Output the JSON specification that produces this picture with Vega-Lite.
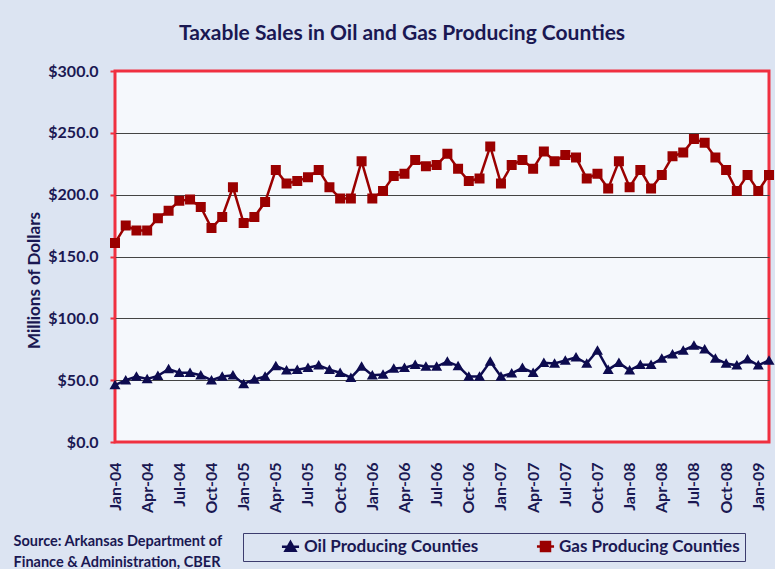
{
  "$schema": "https://vega.github.io/schema/vega-lite/v6.json",
  "width": 654,
  "height": 371,
  "autosize": "none",
  "padding": {"left": 115, "top": 71, "right": 6, "bottom": 127},
  "background": "#dce4f2",
  "title": {
    "text": "Taxable Sales in Oil and Gas Producing Counties",
    "anchor": "middle",
    "dx": -40,
    "offset": 19,
    "font": "Lato",
    "fontSize": 21,
    "fontWeight": "bold",
    "color": "#1a1852"
  },
  "config": {
    "view": {"fill": "#f5f8fc", "stroke": "#f03040", "strokeWidth": 3},
    "legend": {
      "orient": "none",
      "legendX": 128,
      "legendY": 462,
      "direction": "horizontal",
      "titleOrient": "left",
      "titleFontSize": 1,
      "titlePadding": 34,
      "padding": 5,
      "strokeColor": "#3c3c6e",
      "labelFont": "Lato",
      "labelFontSize": 17,
      "labelFontWeight": "bold",
      "labelColor": "#1a1852",
      "labelOffset": 5,
      "labelLimit": 400,
      "columnPadding": 52,
      "symbolSize": 81,
      "symbolStrokeWidth": 2.5
    }
  },
  "data": {
    "values": [
      {"month": "Jan-04", "oil": 46, "gas": 161},
      {"month": "Feb-04", "oil": 50, "gas": 175},
      {"month": "Mar-04", "oil": 53, "gas": 171},
      {"month": "Apr-04", "oil": 51, "gas": 171},
      {"month": "May-04", "oil": 53.5, "gas": 181},
      {"month": "Jun-04", "oil": 59, "gas": 187},
      {"month": "Jul-04", "oil": 56, "gas": 195},
      {"month": "Aug-04", "oil": 56, "gas": 196},
      {"month": "Sep-04", "oil": 54, "gas": 190},
      {"month": "Oct-04", "oil": 50, "gas": 173},
      {"month": "Nov-04", "oil": 53, "gas": 182},
      {"month": "Dec-04", "oil": 54, "gas": 206},
      {"month": "Jan-05", "oil": 47, "gas": 177},
      {"month": "Feb-05", "oil": 50.5, "gas": 182},
      {"month": "Mar-05", "oil": 53, "gas": 194},
      {"month": "Apr-05", "oil": 61.5, "gas": 220},
      {"month": "May-05", "oil": 58, "gas": 209},
      {"month": "Jun-05", "oil": 58.5, "gas": 211},
      {"month": "Jul-05", "oil": 60, "gas": 214},
      {"month": "Aug-05", "oil": 62, "gas": 220},
      {"month": "Sep-05", "oil": 58.5, "gas": 206},
      {"month": "Oct-05", "oil": 56, "gas": 197},
      {"month": "Nov-05", "oil": 52, "gas": 197},
      {"month": "Dec-05", "oil": 61, "gas": 227},
      {"month": "Jan-06", "oil": 54, "gas": 197},
      {"month": "Feb-06", "oil": 54.5, "gas": 203},
      {"month": "Mar-06", "oil": 59.5, "gas": 215},
      {"month": "Apr-06", "oil": 60, "gas": 217},
      {"month": "May-06", "oil": 62.5, "gas": 228},
      {"month": "Jun-06", "oil": 61, "gas": 223},
      {"month": "Jul-06", "oil": 61, "gas": 224},
      {"month": "Aug-06", "oil": 65, "gas": 233},
      {"month": "Sep-06", "oil": 61.5, "gas": 221},
      {"month": "Oct-06", "oil": 53, "gas": 211},
      {"month": "Nov-06", "oil": 53, "gas": 213},
      {"month": "Dec-06", "oil": 65, "gas": 239},
      {"month": "Jan-07", "oil": 53, "gas": 209},
      {"month": "Feb-07", "oil": 55.5, "gas": 224},
      {"month": "Mar-07", "oil": 60, "gas": 228},
      {"month": "Apr-07", "oil": 56, "gas": 221},
      {"month": "May-07", "oil": 64, "gas": 235},
      {"month": "Jun-07", "oil": 63.5, "gas": 227},
      {"month": "Jul-07", "oil": 66, "gas": 232},
      {"month": "Aug-07", "oil": 68.5, "gas": 230},
      {"month": "Sep-07", "oil": 63.5, "gas": 213},
      {"month": "Oct-07", "oil": 74, "gas": 217},
      {"month": "Nov-07", "oil": 58.5, "gas": 205},
      {"month": "Dec-07", "oil": 64, "gas": 227},
      {"month": "Jan-08", "oil": 58, "gas": 206},
      {"month": "Feb-08", "oil": 62.5, "gas": 220},
      {"month": "Mar-08", "oil": 62.5, "gas": 205},
      {"month": "Apr-08", "oil": 67.5, "gas": 216},
      {"month": "May-08", "oil": 71, "gas": 231},
      {"month": "Jun-08", "oil": 74, "gas": 234},
      {"month": "Jul-08", "oil": 78, "gas": 245},
      {"month": "Aug-08", "oil": 75, "gas": 242},
      {"month": "Sep-08", "oil": 67.5, "gas": 230},
      {"month": "Oct-08", "oil": 63.5, "gas": 220},
      {"month": "Nov-08", "oil": 62, "gas": 203},
      {"month": "Dec-08", "oil": 67, "gas": 216},
      {"month": "Jan-09", "oil": 62, "gas": 203},
      {"month": "Feb-09", "oil": 66, "gas": 216}
    ]
  },
  "transform": [{"fold": ["oil", "gas"], "as": ["series", "value"]}],
  "encoding": {
    "x": {
      "field": "month",
      "type": "ordinal",
      "sort": null,
      "scale": {"type": "point", "padding": 0},
      "axis": {
        "title": ["Source: Arkansas Department of", "Finance & Administration, CBER"],
        "titleX": -102,
        "titleY": 92.5,
        "titleAlign": "left",
        "titleBaseline": "top",
        "titleFont": "Lato",
        "titleFontSize": 14.5,
        "titleFontWeight": "bold",
        "titleColor": "#1a1852",
        "titleLineHeight": 21,
        "labelAngle": 270,
        "labelExpr": "test(/^(Jan|Apr|Jul|Oct)/, datum.label) ? datum.label : ''",
        "labelFont": "Lato",
        "labelFontSize": 16,
        "labelFontWeight": "bold",
        "labelColor": "#1a1852",
        "labelPadding": 20,
        "labelOverlap": false,
        "labelBound": false,
        "ticks": false,
        "domain": false,
        "grid": false
      }
    },
    "y": {
      "field": "value",
      "type": "quantitative",
      "scale": {"domain": [0, 300], "nice": false},
      "axis": {
        "values": [0, 50, 100, 150, 200, 250, 300],
        "format": "$.1f",
        "title": "Millions of Dollars",
        "titleFont": "Lato",
        "titleFontSize": 17,
        "titleFontWeight": "bold",
        "titleColor": "#1a1852",
        "titleX": -75.5,
        "titleY": 209,
        "titleAngle": 270,
        "titleAlign": "center",
        "titleBaseline": "alphabetic",
        "labelFont": "Lato",
        "labelFontSize": 16,
        "labelFontWeight": "bold",
        "labelColor": "#1a1852",
        "labelPadding": 12,
        "tickColor": "#f03040",
        "tickSize": 5,
        "tickWidth": 2,
        "domain": false,
        "grid": true,
        "gridColor": {"condition": {"test": "datum.value == 0 || datum.value == 300", "value": "transparent"}, "value": "#444444"},
        "gridWidth": 1
      }
    }
  },
  "layer": [
    {
      "mark": {"type": "line", "strokeWidth": 2.5},
      "encoding": {
        "stroke": {
          "field": "series",
          "type": "nominal",
          "scale": {"domain": ["oil", "gas"], "range": ["#0d0b4f", "#9a0000"]},
          "legend": {
            "title": " ",
            "labelExpr": "datum.label == 'oil' ? 'Oil Producing Counties' : 'Gas Producing Counties'"
          }
        }
      }
    },
    {
      "mark": {"type": "point", "filled": true, "size": 100, "opacity": 1},
      "encoding": {
        "color": {
          "field": "series",
          "type": "nominal",
          "scale": {"domain": ["oil", "gas"], "range": ["#0d0b4f", "#9a0000"]},
          "legend": {
            "title": " ",
            "labelExpr": "datum.label == 'oil' ? 'Oil Producing Counties' : 'Gas Producing Counties'"
          }
        },
        "shape": {
          "field": "series",
          "type": "nominal",
          "scale": {"domain": ["oil", "gas"], "range": ["M-1.9,0H1.9M0,-1.05L1.1,0.85H-1.1Z", "M-1.9,0H1.9M-1,-1H1V1H-1Z"]},
          "legend": {
            "title": " ",
            "labelExpr": "datum.label == 'oil' ? 'Oil Producing Counties' : 'Gas Producing Counties'"
          }
        }
      }
    }
  ]
}
